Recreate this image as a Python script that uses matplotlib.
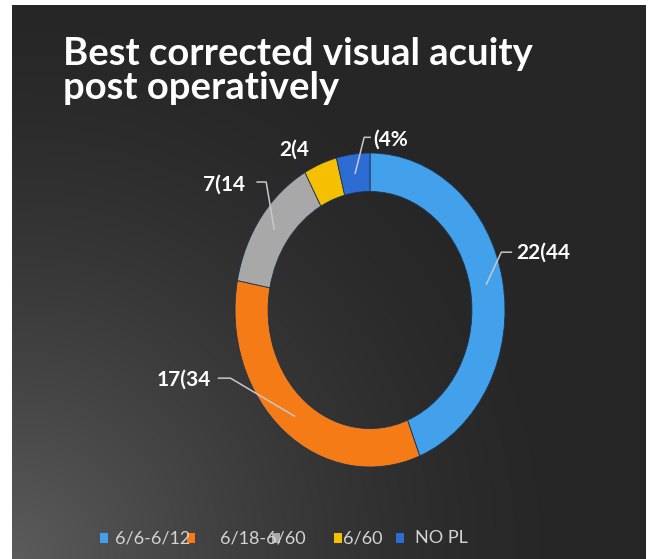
import numpy as np
import matplotlib.pyplot as plt
from matplotlib.patches import Rectangle

# data (labels are clipped in the original slide)
categories = ["6/6-6/12", "6/18-6/60", "", "6/60", "NO PL"]
counts = [22, 17, 7, 2, 2]
slice_labels = ["22(44", "17(34", "7(14", "2(4", "(4%"]
colors = ["#42A1EA", "#F57B16", "#A8A8A8", "#F6C002", "#2D6CD3"]

W, H = 649, 559
fig = plt.figure(figsize=(W / 100, H / 100), dpi=100, facecolor="white")


def fx(px):
    return px / W


def fy(py):
    return 1 - py / H


# dark slide background with lighter bottom-left corner
bg = fig.add_axes([fx(12), 0, fx(646) - fx(12), fy(5)])
yy, xx = np.mgrid[0:300, 0:340]
d = np.hypot(xx / 340.0 * 634, (299 - yy) / 300.0 * 554) / 560.0
glow = np.clip(1 - d, 0, 1) ** 1.5
shade = 0.15 + 0.21 * glow
bg.imshow(np.dstack([shade, shade, shade]), aspect="auto", extent=(0, 1, 0, 1))
bg.set_axis_off()

# title
fig.text(fx(63), fy(65), "Best corrected visual acuity", color="white",
         fontsize=27.5, fontweight="bold", family="Lato", va="baseline")
fig.text(fx(63), fy(99), "post operatively", color="white",
         fontsize=27.5, fontweight="bold", family="Lato", va="baseline")

# donut (slightly stretched vertically like the slide)
cx, cy, rx, ry = 370, 310, 135, 157
ax = fig.add_axes([fx(cx - rx), fy(cy + ry), 2 * rx / W, 2 * ry / H])
ring = 0.245
wedges, _ = ax.pie(counts, colors=colors, startangle=90, counterclock=False,
                   wedgeprops=dict(width=ring, edgecolor="#1d3350", linewidth=0.6))
ax.set_aspect("auto")
ax.set_xlim(-1, 1)
ax.set_ylim(-1, 1)
ax.set_axis_off()

# leader lines: (elbow dx, dy, end dx, dy, text dx, dy, ha) in px from ring mid
leaders = [
    (15, 32, 25, 32, 30, 32, "left"),
    (-64, 38, -76, 38, -84, 36, "right"),
    (-8, 47, -17, 47, -29, 44, "right"),
    (None, None, None, None, -32, 32, "center"),
    (9, 36, 15, 36, 18, 34, "left"),
]
r_mid = 1 - ring / 2
for w, lab, (ex, ey, nx_, ny_, tx, ty, ha) in zip(wedges, slice_labels, leaders):
    ang = np.deg2rad((w.theta1 + w.theta2) / 2)
    ax0, ay0 = r_mid * np.cos(ang), r_mid * np.sin(ang)
    if ex is not None:
        ax.plot([ax0, ax0 + ex / rx, ax0 + nx_ / rx],
                [ay0, ay0 + ey / ry, ay0 + ny_ / ry],
                color="#C8C8C8", lw=1.1, clip_on=False)
    ax.text(ax0 + tx / rx, ay0 + ty / ry, lab, color="white", fontsize=15,
            fontweight="bold", family="Lato", ha=ha, va="center", clip_on=False)

# legend row at the bottom
legend_y = 538
marker_x = [104, 191, 276, 338, 400]
text_x = [115, 220, None, 343, 415]
for name, col, mx, tx in zip(categories, colors, marker_x, text_x):
    if tx is not None and name:
        fig.text(fx(tx), fy(legend_y), name, color="#D4D4D4", fontsize=13,
                 family="Lato", va="center")
    fig.add_artist(Rectangle((fx(mx - 4), fy(legend_y + 5)), 8 / W, 10 / H,
                             transform=fig.transFigure, facecolor=col,
                             edgecolor="none"))

fig.savefig("out.png", dpi=100, facecolor=fig.get_facecolor())
